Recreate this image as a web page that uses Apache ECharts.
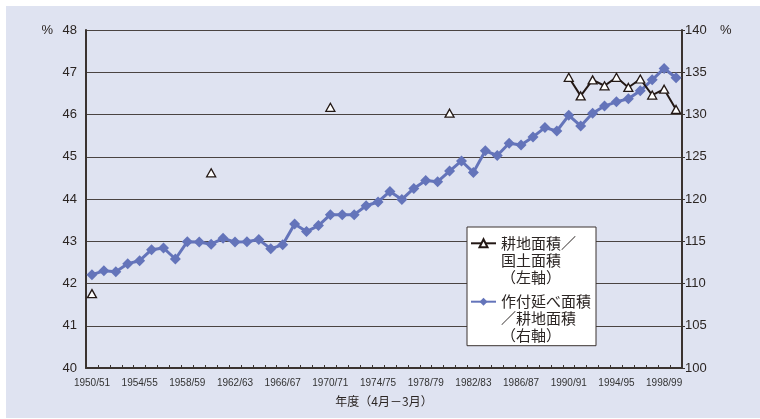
<!DOCTYPE html>
<html>
<head>
<meta charset="utf-8">
<script src="https://cdn.jsdelivr.net/npm/echarts@6/dist/echarts.min.js"></script>
<style>
html,body{margin:0;padding:0;background:#ffffff;}
#chart{width:760px;height:419px;}
</style>
</head>
<body>
<div id="chart"></div>
<script>
// ---- data ----
const years = [
  "1950/51","1951/52","1952/53","1953/54","1954/55","1955/56","1956/57","1957/58","1958/59","1959/60",
  "1960/61","1961/62","1962/63","1963/64","1964/65","1965/66","1966/67","1967/68","1968/69","1969/70",
  "1970/71","1971/72","1972/73","1973/74","1974/75","1975/76","1976/77","1977/78","1978/79","1979/80",
  "1980/81","1981/82","1982/83","1983/84","1984/85","1985/86","1986/87","1987/88","1988/89","1989/90",
  "1990/91","1991/92","1992/93","1993/94","1994/95","1995/96","1996/97","1997/98","1998/99","1999/00"
];
// 耕地面積／国土面積 (%), left axis
const farmlandRatio = [
  41.76, null, null, null, null, null, null, null, null, null,
  44.62, null, null, null, null, null, null, null, null, null,
  46.17, null, null, null, null, null, null, null, null, null,
  46.03, null, null, null, null, null, null, null, null, null,
  46.88, 46.44, 46.82, 46.68, 46.88, 46.64, 46.84, 46.46, 46.60, 46.12
];
// 作付延べ面積／耕地面積 (%), right axis
const croppingRatio = [
  111.05, 111.5, 111.4, 112.35, 112.7, 114.0, 114.2, 112.9, 114.95, 114.9,
  114.65, 115.35, 114.9, 114.95, 115.2, 114.1, 114.6, 117.05, 116.15, 116.85,
  118.15, 118.15, 118.15, 119.2, 119.65, 120.9, 119.95, 121.25, 122.2, 122.05,
  123.3, 124.5, 123.15, 125.7, 125.15, 126.6, 126.4, 127.35, 128.45, 128.05,
  129.9, 128.65, 130.15, 131.0, 131.5, 131.85, 132.8, 134.1, 135.45, 134.35
];
const nameFarmland = "耕地面積／\n国土面積\n（左軸）";
const nameCropping = "作付延べ面積\n／耕地面積\n（右軸）";
const xAxisName = "年度（4月－3月）";

const chart = echarts.init(document.getElementById('chart'), null, {renderer:'canvas'});
const textColor = '#2b2523';
const sansFont = '"Liberation Sans", Arial, "Noto Sans CJK JP", sans-serif';
const cjkFont = '"Noto Sans CJK JP", "Liberation Sans", sans-serif';

chart.setOption({
  backgroundColor: '#ffffff',
  animation: false,
  graphic: [{
    type: 'rect', left: 6, top: 6, z: -10,
    shape: {width: 754, height: 412},
    style: {fill: '#dfe3f1'}
  }],
  grid: {left: 86, right: 78, top: 30, bottom: 51, containLabel: false},
  legend: {
    orient: 'vertical',
    left: 467, top: 227,
    data: [nameFarmland, nameCropping],
    itemWidth: 25, itemHeight: 10,
    itemGap: -26.6,
    padding: [-26.2, 5, 1.5, 3],
    backgroundColor: '#ffffff',
    borderColor: '#3a3330', borderWidth: 1,
    formatter: function (name) { return '\n\n' + name; },
    textStyle: {
      fontFamily: cjkFont, fontSize: 15, lineHeight: 17, color: textColor
    }
  },
  xAxis: {
    type: 'category',
    data: years,
    boundaryGap: true,
    name: xAxisName,
    nameLocation: 'middle',
    nameGap: 27,
    nameTextStyle: {fontFamily: cjkFont, fontSize: 12, color: textColor},
    axisLine: {lineStyle: {color: '#3a3330', width: 2}},
    axisTick: {show: true, inside: true, length: 3, interval: 0, lineStyle: {color: '#3a3330'}},
    axisLabel: {interval: 3, fontFamily: sansFont, fontSize: 10, color: '#333', margin: 10}
  },
  yAxis: [{
    type: 'value', min: 40, max: 48, interval: 1,
    name: '%', nameLocation: 'end', nameGap: 0,
    nameTextStyle: {fontFamily: sansFont, fontSize: 13, color: textColor, align: 'right', verticalAlign: 'middle', padding: [0, 33, 0, 0]},
    axisLine: {show: true, lineStyle: {color: '#3a3330', width: 2}},
    axisTick: {show: false},
    axisLabel: {fontFamily: sansFont, fontSize: 13, color: textColor, margin: 9},
    splitLine: {show: true, lineStyle: {color: '#4a4442', width: 1}}
  }, {
    type: 'value', min: 100, max: 140, interval: 5,
    name: '%', nameLocation: 'end', nameGap: 0,
    nameTextStyle: {fontFamily: sansFont, fontSize: 13, color: textColor, align: 'left', verticalAlign: 'middle', padding: [0, 0, 0, 38]},
    axisLine: {show: true, lineStyle: {color: '#3a3330', width: 2}},
    axisTick: {show: true, length: 3, lineStyle: {color: '#3a3330'}},
    axisLabel: {fontFamily: sansFont, fontSize: 13, color: textColor, margin: 3},
    splitLine: {show: false}
  }],
  series: [{
    name: nameCropping,
    type: 'line',
    yAxisIndex: 1,
    data: croppingRatio,
    symbol: 'diamond',
    symbolSize: 11,
    showAllSymbol: true,
    lineStyle: {color: '#6474ba', width: 3},
    itemStyle: {color: '#6474ba'},
    z: 2
  }, {
    name: nameFarmland,
    type: 'line',
    yAxisIndex: 0,
    data: farmlandRatio,
    connectNulls: false,
    symbol: 'triangle',
    symbolSize: [9, 8],
    showAllSymbol: true,
    lineStyle: {color: '#231815', width: 2},
    itemStyle: {color: '#ffffff', borderColor: '#231815', borderWidth: 1.3},
    z: 3
  }]
});
</script>
</body>
</html>
